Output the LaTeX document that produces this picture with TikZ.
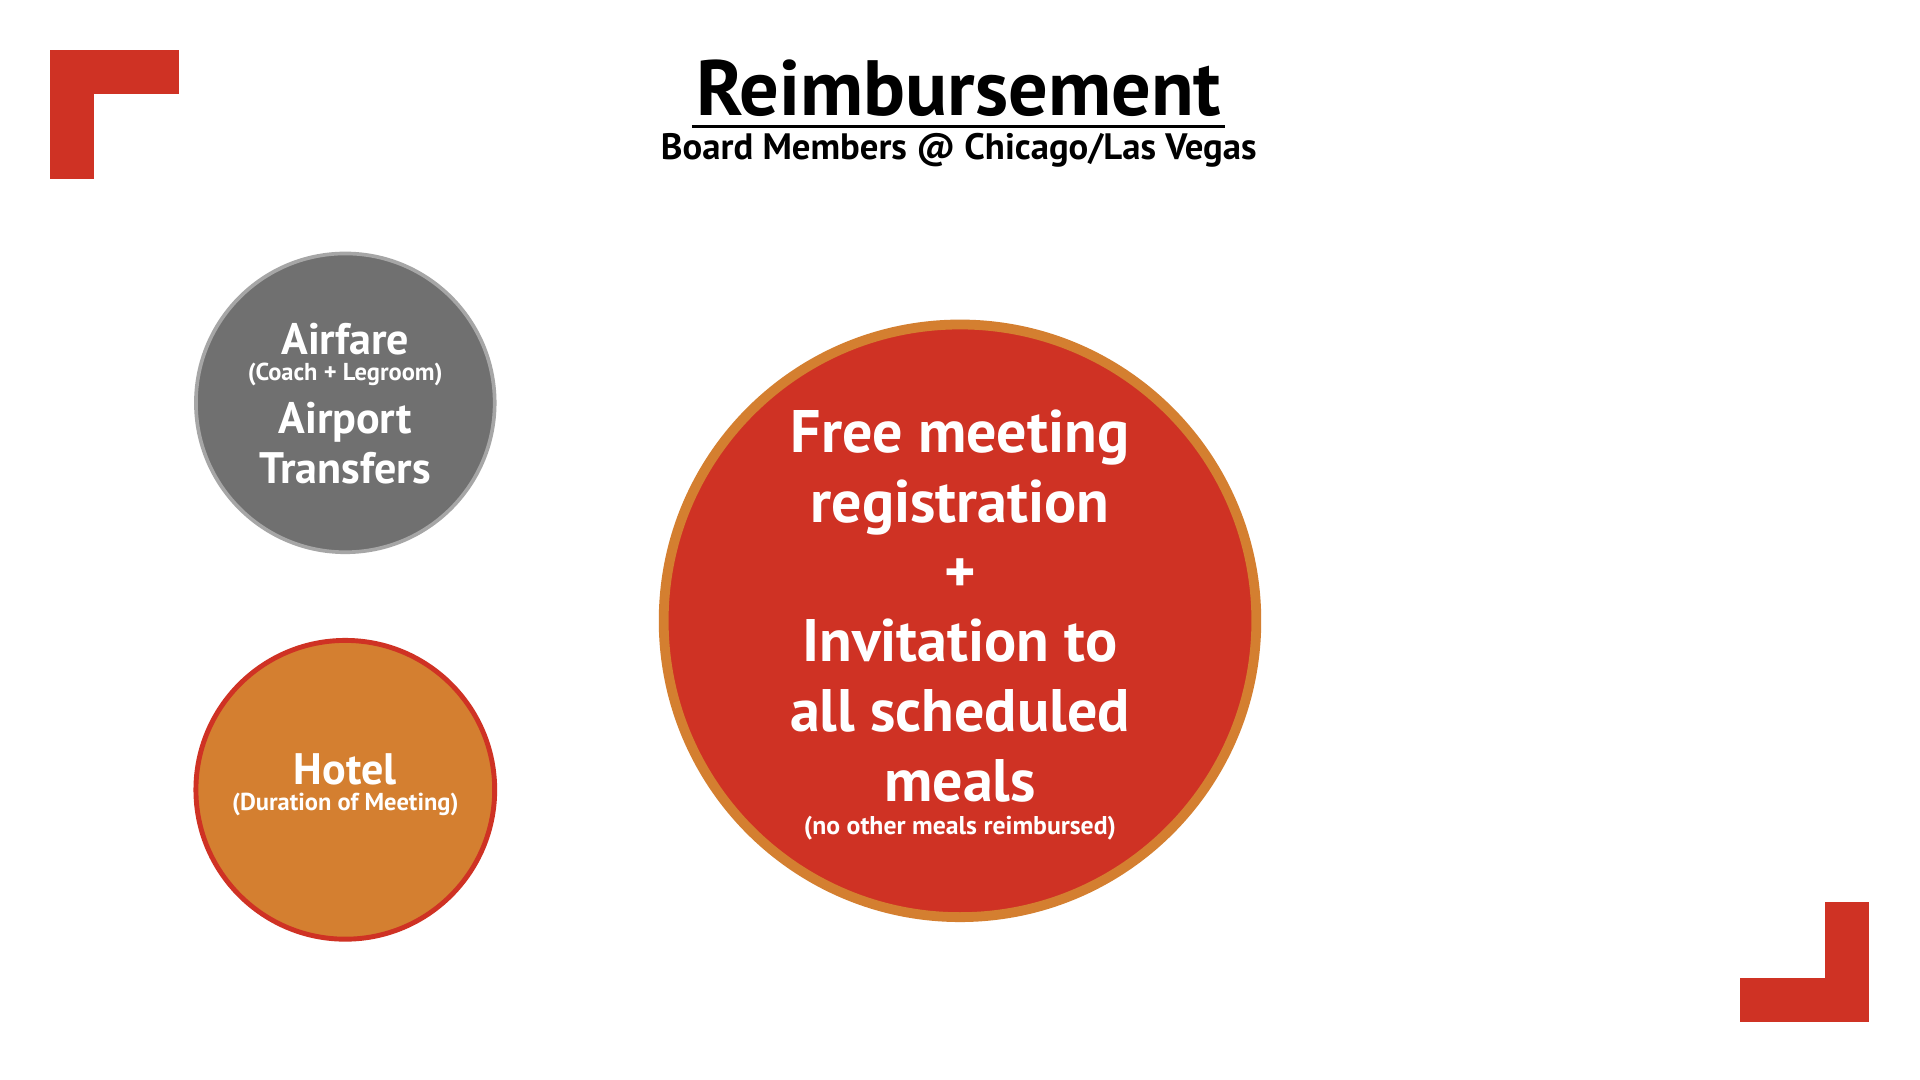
\documentclass[tikz,border=0pt]{standalone}
\usepackage{fontspec}
\setmainfont{PT Sans}
\usetikzlibrary{positioning}
\definecolor{brandred}{HTML}{CF3224}
\definecolor{brandorange}{HTML}{D47F30}
\definecolor{brandgray}{HTML}{707070}
\begin{document}
\begin{tikzpicture}[
            x=0.5pt, y=-0.5pt,
            corner/.style={ fill=brandred },
            bubble/.style={ circle, inner sep=0pt, text=white, align=center, font=\bfseries },
            small/.style={ font=\bfseries\fontsize{10}{11}\selectfont }
        ]
            \useasboundingbox[fill=white] (0,0) rectangle (1568,882);

            % Corner brackets
            \fill[corner] (41,41) rectangle (77,146);
            \fill[corner] (41,41) rectangle (146,77);
            \fill[corner] (1490,737) rectangle (1526,835);
            \fill[corner] (1421,799) rectangle (1526,835);

            % Title
            \node (title) [font=\bfseries\fontsize{32}{36}\selectfont, inner sep=0pt] at (783,72) {Reimbursement};
            \draw[line width=1.2pt] (565,103) -- (1000,103);
            \node (subtitle) [font=\bfseries\fontsize{15}{18}\selectfont, inner sep=0pt] at (783,123) {Board Members @ Chicago/Las Vegas};

            % Circles
            \node (travel) [bubble, fill=brandgray, draw=gray!70, line width=1.5pt, minimum size=122pt] at (282,329) {};
            \node (hotel) [bubble, fill=brandorange, draw=brandred, line width=2pt, minimum size=122pt] at (282,645) {};
            \node (meeting) [bubble, fill=brandred, draw=brandorange, line width=4pt, minimum size=242pt] at (784,507) {};

            % Texts
            \node (airfare) [bubble, font=\bfseries\fontsize{18}{20}\selectfont] at (282,277) {Airfare};
            \node (coach) [bubble, small] at (282,306) {(Coach + Legroom)};
            \node (airport) [bubble, font=\bfseries\fontsize{18}{20.5}\selectfont] at (282,362) {Airport\\Transfers};
            \node (hoteltxt) [bubble, font=\bfseries\fontsize{18}{20}\selectfont] at (282,628) {Hotel};
            \node (duration) [bubble, small] at (282,657) {(Duration of Meeting)};
            \node (offer) [bubble, font=\bfseries\fontsize{24.5}{28.5}\selectfont] at (784,495) {Free meeting\\registration\\+\\Invitation to\\all scheduled\\meals};
            \node (nomeals) [bubble, font=\bfseries\fontsize{10.5}{12}\selectfont] at (784,676) {(no other meals reimbursed)};
        \end{tikzpicture}
\end{document}
